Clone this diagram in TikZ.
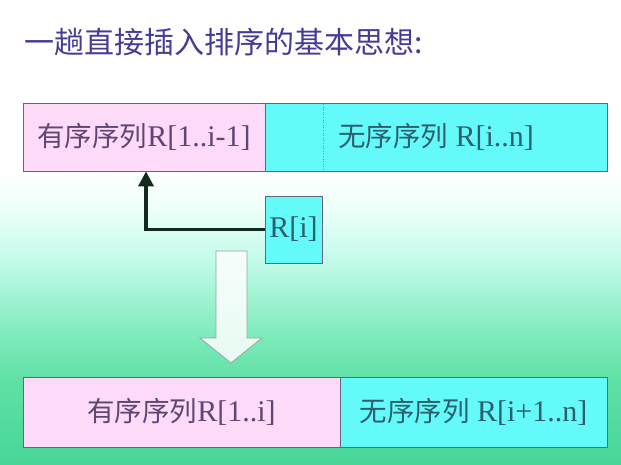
\documentclass[tikz,border=0pt]{standalone}
\usepackage{fontspec}
\setmainfont{Liberation Serif}
\newfontfamily\cjk{Noto Sans CJK SC}
\usetikzlibrary{arrows.meta}
\definecolor{pinkfill}{RGB}{252,218,248}
\definecolor{cyanfill}{RGB}{100,250,250}
\definecolor{edgegray}{RGB}{105,100,125}
\definecolor{titlecol}{RGB}{70,60,150}
\definecolor{pinktext}{RGB}{95,70,115}
\definecolor{cyantext}{RGB}{45,95,110}
\definecolor{arrowcol}{RGB}{20,40,30}
\definecolor{hollowedge}{RGB}{150,165,165}
\pgfdeclareverticalshading{bgshade}{100bp}{%
  color(0bp)=(rgb,255:red,72;green,214;blue,152);
  color(25bp)=(rgb,255:red,72;green,214;blue,152);
  color(34bp)=(rgb,255:red,95;green,224;blue,165);
  color(39.4bp)=(rgb,255:red,130;green,236;blue,190);
  color(47bp)=(rgb,255:red,195;green,251;blue,234);
  color(53bp)=(rgb,255:red,240;green,255;blue,250);
  color(57bp)=(rgb,255:red,255;green,255;blue,255);
  color(100bp)=(rgb,255:red,255;green,255;blue,255)}
\tikzset{
  seg/.style={draw=edgegray, line width=0.8pt, minimum height=68pt, inner sep=0pt, anchor=center},
  pinkseg/.style={seg, fill=pinkfill, text=pinktext},
  cyanseg/.style={seg, fill=cyanfill, text=cyantext},
  lbl/.style={font=\fontsize{30}{33}\selectfont},
}
\newcommand{\zhtxt}[1]{{\cjk\fontsize{27.5}{31}\selectfont #1}}
\begin{document}
\begin{tikzpicture}[x=1pt,y=-1pt]
\useasboundingbox (0,0) rectangle (621,464);
\shade[shading=bgshade] (0,0) rectangle (621,464);
% title
\node[anchor=west, text=titlecol, inner sep=0pt] (title) at (24,42)
  {\cjk\fontsize{30}{34}\selectfont 一趟直接插入排序的基本思想:};
% top bar
\node[pinkseg, minimum width=242pt, lbl] (p1) at (144,137) {\zhtxt{有序序列}R[1..i-1]};
\node[cyanseg, minimum width=342pt, lbl] (c1) at (436,137) {\zhtxt{无序序列} R[i..n]};
\coordinate (dtop) at (323,104);
\coordinate (dbot) at (323,170);
\draw[cyantext!70, dotted, line width=0.6pt] (dtop) -- (dbot);
% R[i]
\node[cyanseg, minimum width=57pt, minimum height=67pt, lbl] (ri) at (293.5,229.5) {R[i]};
\coordinate (tgt) at (146,171.4);
\draw[arrowcol, line width=3.5pt, -{Triangle[length=15pt,width=15pt]}] (ri.west) -| (tgt);
% hollow down arrow
\filldraw[fill=white, fill opacity=0.85, draw=hollowedge, line width=0.8pt]
  (216,251) -- (247,251) -- (247,338) -- (262,338) -- (231,363) -- (200,338) -- (216,338) -- cycle;
% bottom bar
\node[pinkseg, minimum width=317pt, minimum height=70pt, lbl] (p2) at (181.5,412) {\zhtxt{有序序列}R[1..i]};
\node[cyanseg, minimum width=267pt, minimum height=70pt, lbl] (c2) at (473.5,412) {\zhtxt{无序序列} R[i+1..n]};
\end{tikzpicture}
\end{document}
